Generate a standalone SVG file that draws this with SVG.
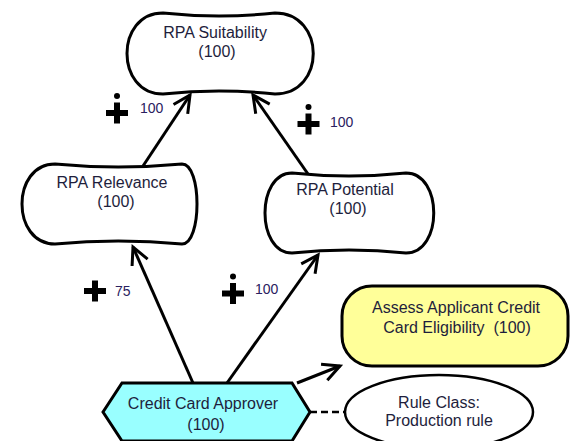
<svg xmlns="http://www.w3.org/2000/svg" xmlns:xlink="http://www.w3.org/1999/xlink" width="570" height="441" viewBox="0 0 570 441">
<style>
.soft{fill:#ffffff;stroke:#000;stroke-width:3;stroke-linejoin:round}
.lbl{font-family:"Liberation Sans",Arial,sans-serif;font-size:16px;fill:#1e1e3c;text-anchor:middle}
.num{font-family:"Liberation Sans",Arial,sans-serif;font-size:14px;fill:#2a2060}
.link{fill:none;stroke:#000;stroke-width:3}
.dash{fill:none;stroke:#000;stroke-width:2.5;stroke-dasharray:7,4}
</style>
<defs>
<marker id="arr" markerUnits="userSpaceOnUse" markerWidth="40" markerHeight="40" viewBox="-20 -20 40 40" refX="0" refY="0" orient="auto">
<path d="M-17,-8.5 L0,0 L-17,8.5" fill="none" stroke="#000" stroke-width="3"/>
</marker>
<g id="plus"><rect x="-11" y="-3" width="22" height="6" fill="#000"/><rect x="-3" y="-10.5" width="6" height="21" fill="#000"/></g>
<g id="plusdot"><use xlink:href="#plus" href="#plus"/><circle cx="0" cy="-17" r="3" fill="#000"/></g>
</defs>
<rect width="570" height="441" fill="#fff"/>
<g id="connectors">
<line class="link" x1="143" y1="166" x2="190" y2="95" marker-end="url(#arr)"/>
<line class="link" x1="308" y1="174" x2="253" y2="95" marker-end="url(#arr)"/>
<line class="link" x1="193" y1="383" x2="133" y2="247" marker-end="url(#arr)"/>
<line class="link" x1="227" y1="383" x2="318" y2="255" marker-end="url(#arr)"/>
<line class="link" x1="297" y1="383" x2="340" y2="366" marker-end="url(#arr)"/>
<line class="dash" x1="310" y1="412" x2="345" y2="412"/>
<use xlink:href="#plusdot" href="#plusdot" x="117" y="113"/>
<text class="num" x="140" y="113">100</text>
<use xlink:href="#plusdot" href="#plusdot" x="308.5" y="124"/>
<text class="num" x="330" y="127">100</text>
<use xlink:href="#plus" href="#plus" x="95" y="291"/>
<text class="num" x="115" y="296">75</text>
<use xlink:href="#plusdot" href="#plusdot" x="233" y="293.5"/>
<text class="num" x="255" y="294">100</text>
</g>
<g id="rpa-suitability">
<path class="soft" d="M163,13 Q219,19 275,13 C326,13 326,94 275,94 Q219,88 163,94 C115,94 115,13 163,13 Z"/>
<text class="lbl" x="215" y="38">RPA Suitability</text>
<text class="lbl" x="217" y="57">(100)</text>
</g>
<g id="rpa-relevance">
<path class="soft" d="M55,164 Q118,170 182,164 C202,164 202,244 182,244 Q118,238 55,244 C11,244 11,164 55,164 Z"/>
<text class="lbl" x="112" y="188">RPA Relevance</text>
<text class="lbl" x="116" y="207">(100)</text>
</g>
<g id="rpa-potential">
<path class="soft" d="M292,173 Q349,179 406,173 C443,173 443,253 406,253 Q349,247 292,253 C256,253 256,173 292,173 Z"/>
<text class="lbl" x="345" y="195">RPA Potential</text>
<text class="lbl" x="348" y="214">(100)</text>
</g>
<g id="assess-goal">
<rect x="342" y="286" width="226" height="80" rx="30" ry="30" fill="#ffff99" stroke="#000" stroke-width="3"/>
<text class="lbl" x="456" y="313">Assess Applicant Credit</text>
<text class="lbl" x="457" y="333" xml:space="preserve" style="white-space:pre">Card Eligibility  (100)</text>
</g>
<g id="credit-card-approver">
<polygon points="103,412 122,383 292,383 310,412 292,441 122,441" fill="#99ffff" stroke="#000" stroke-width="3" stroke-linejoin="miter"/>
<text class="lbl" x="203" y="409">Credit Card Approver</text>
<text class="lbl" x="206" y="430">(100)</text>
</g>
<g id="rule-class">
<ellipse cx="439" cy="412" rx="94" ry="37" fill="#fff" stroke="#000" stroke-width="2.5"/>
<text class="lbl" x="439" y="408">Rule Class:</text>
<text class="lbl" x="439" y="426">Production rule</text>
</g>
</svg>
